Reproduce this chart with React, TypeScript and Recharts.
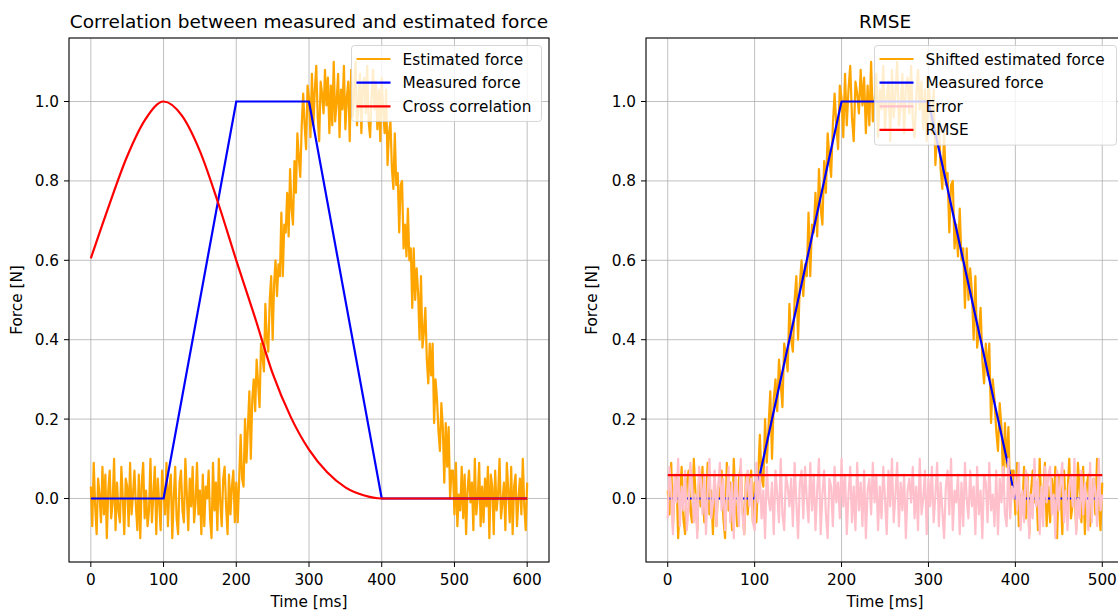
import { LineChart, Line, XAxis, YAxis, CartesianGrid } from "recharts";

// sampling of the noisy signals
const SAMPLE_MS = 2;
const SHIFT_SAMPLES = 50; // 100 ms lag found by the cross correlation

// estimated force, 0..600 ms every 2 ms
const estimatedForce = [
  0.03, -0.07, 0.09, -0.02, -0.09, 0.05, 0.01, -0.06, 0.08, -0.04,
  0.06, -0.10, 0.02, 0.07, -0.05, -0.01, 0.10, -0.08, 0.04, -0.03,
  -0.06, 0.08, 0.00, -0.09, 0.05, 0.03, -0.07, 0.09, -0.04, 0.01,
  0.07, -0.02, -0.08, 0.06, -0.10, 0.04, 0.09, -0.05, 0.02, -0.07,
  -0.03, 0.10, -0.06, 0.01, 0.08, -0.09, 0.05, -0.01, -0.08, 0.07,
  0.02, -0.04, 0.09, -0.07, 0.03, 0.06, -0.10, 0.00, 0.08, -0.05,
  -0.09, 0.04, 0.07, -0.03, -0.06, 0.10, 0.01, -0.08, 0.05, -0.02,
  0.08, -0.06, -0.01, 0.09, -0.04, 0.02, -0.09, 0.06, -0.07, 0.03,
  0.00, 0.07, -0.05, -0.10, 0.09, -0.03, 0.04, -0.08, 0.10, -0.01,
  -0.07, 0.05, 0.08, -0.02, -0.09, 0.06, -0.04, 0.03, 0.07, -0.06,
  0.04, -0.06, 0.05, 0.16, 0.05, 0.03, 0.20, 0.09, 0.18, 0.27,
  0.10, 0.25, 0.30, 0.22, 0.35, 0.29, 0.23, 0.39, 0.36, 0.32,
  0.49, 0.40, 0.37, 0.50, 0.56, 0.40, 0.54, 0.60, 0.51, 0.59,
  0.56, 0.72, 0.56, 0.69, 0.67, 0.77, 0.66, 0.83, 0.73, 0.69,
  0.85, 0.77, 0.92, 0.86, 0.81, 0.94, 1.02, 0.94, 0.88, 1.04,
  1.01, 0.91, 1.07, 0.94, 1.03, 1.09, 0.96, 0.90, 1.05, 1.02,
  0.97, 1.08, 0.99, 1.06, 0.92, 1.04, 0.94, 1.10, 0.95, 1.00,
  1.07, 0.91, 1.03, 0.98, 1.09, 0.93, 1.01, 1.05, 0.90, 1.08,
  0.96, 1.02, 1.10, 0.94, 0.99, 1.07, 0.92, 1.04, 1.06, 0.97,
  1.09, 0.95, 0.91, 1.01, 1.08, 0.98, 1.05, 0.93, 1.03, 0.90,
  1.06, 0.98, 0.92, 1.03, 0.84, 0.92, 0.95, 0.83, 0.78, 0.92,
  0.79, 0.82, 0.67, 0.79, 0.80, 0.63, 0.69, 0.61, 0.73, 0.60,
  0.63, 0.48, 0.63, 0.50, 0.58, 0.52, 0.40, 0.56, 0.38, 0.42,
  0.48, 0.35, 0.29, 0.39, 0.31, 0.39, 0.19, 0.30, 0.25, 0.17,
  0.12, 0.24, 0.18, 0.04, 0.19, 0.08, 0.18, 0.00, 0.07, 0.07,
  -0.04, 0.09, -0.07, 0.01, -0.03, 0.08, -0.05, 0.06, -0.09, 0.02,
  0.07, -0.01, 0.04, -0.08, 0.10, -0.04, 0.00, 0.09, -0.07, 0.03,
  -0.06, 0.05, -0.02, 0.08, -0.10, 0.06, 0.03, -0.09, 0.07, -0.03,
  0.01, 0.10, -0.05, -0.01, 0.04, -0.08, 0.09, 0.02, -0.06, 0.08,
  -0.09, 0.03, 0.06, -0.07, 0.00, 0.05, -0.04, 0.10, -0.02, -0.08,
  0.04,
];

// error after shifting, 0..500 ms every 2 ms
const errorValues = [
  -0.05, 0.08, 0.02, -0.09, 0.06, -0.01, 0.10, -0.07, 0.03, -0.03,
  0.07, -0.08, -0.02, 0.09, 0.04, -0.06, 0.01, -0.10, 0.08, 0.05,
  -0.04, 0.06, -0.09, 0.02, 0.10, -0.05, -0.01, 0.07, -0.07, 0.03,
  0.09, -0.03, 0.05, -0.08, 0.00, 0.08, -0.06, 0.04, -0.10, 0.06,
  0.01, -0.07, 0.10, -0.04, -0.09, 0.03, 0.07, -0.02, 0.05, -0.06,
  -0.08, 0.09, -0.01, 0.06, -0.05, 0.02, -0.10, 0.08, 0.00, -0.03,
  0.04, -0.09, 0.07, 0.01, -0.06, 0.10, -0.04, -0.08, 0.06, 0.03,
  -0.02, 0.05, -0.07, 0.09, -0.01, -0.10, 0.04, 0.07, -0.05, 0.08,
  0.00, -0.06, 0.09, -0.03, 0.06, -0.08, 0.02, 0.10, -0.09, 0.01,
  0.07, -0.04, -0.10, 0.05, 0.03, -0.07, 0.08, -0.01, 0.04, -0.05,
  0.10, -0.02, 0.06, -0.09, 0.01, 0.08, -0.06, 0.03, -0.08, 0.09,
  -0.03, 0.04, -0.07, 0.07, -0.10, 0.02, 0.05, -0.04, 0.09, -0.01,
  0.06, -0.08, 0.03, -0.05, 0.08, 0.00, -0.09, 0.07, -0.02, 0.10,
  -0.06, 0.01, 0.09, -0.07, 0.04, -0.03, 0.06, -0.10, 0.02, 0.05,
  -0.01, 0.08, -0.05, 0.03, -0.08, 0.10, -0.04, 0.00, 0.07, -0.09,
  0.05, -0.02, 0.08, -0.06, 0.01, 0.09, -0.07, 0.04, -0.03, -0.10,
  0.03, 0.07, -0.04, 0.10, -0.08, 0.02, -0.01, 0.06, -0.09, 0.04,
  -0.07, 0.09, 0.00, -0.05, 0.07, -0.02, 0.03, -0.09, 0.08, -0.04,
  0.02, -0.10, 0.06, 0.04, -0.06, 0.09, -0.03, 0.01, -0.07, 0.07,
  -0.09, 0.05, -0.01, 0.08, -0.04, -0.07, 0.10, -0.05, 0.03, 0.00,
  0.06, -0.03, 0.09, -0.08, 0.02, -0.06, 0.07, 0.04, -0.10, 0.01,
  -0.05, 0.10, -0.02, 0.05, -0.09, 0.03, -0.07, 0.08, -0.01, 0.06,
  0.08, -0.04, 0.01, -0.10, 0.07, -0.03, 0.05, 0.09, -0.06, 0.02,
  -0.08, 0.03, 0.06, -0.02, 0.10, -0.09, 0.00, -0.05, 0.07, -0.04,
  0.04, -0.01, -0.08, 0.09, -0.06, 0.05, 0.02, -0.07, 0.10, -0.03,
  0.01,
];

const measuredTimes = [0, 100, 200, 300, 400, 600];
const measuredValues = [0, 0, 1, 1, 0, 0];
const measuredTimesRmse = [0, 100, 200, 300, 400, 500];
const measuredValuesRmse = [0, 0, 1, 1, 0, 0];

const corrTimes = [0, 25, 50, 75, 100, 125, 150, 175, 200, 225, 250, 275, 300, 325, 350, 375, 400, 425, 450, 475, 500, 525, 550, 575, 600];
const corrValues = [0.605, 0.738, 0.862, 0.955, 1.0, 0.965, 0.875, 0.745, 0.6, 0.46, 0.315, 0.205, 0.123, 0.066, 0.028, 0.008, 0, 0, 0, 0, 0, 0, 0, 0, 0];

const rmseTimes = [0, 500];
const rmseValues = [0.059, 0.059];

const leftXTicks = [0, 100, 200, 300, 400, 500, 600];
const rightXTicks = [0, 100, 200, 300, 400, 500];
const yTicks = [0, 0.2, 0.4, 0.6, 0.8, 1.0];

const toRows = (ts: number[], vs: number[]) => ts.map((t, i) => ({ t, v: vs[i] }));
const estRows = estimatedForce.map((v, i) => ({ t: i * SAMPLE_MS, v }));
const shiftedRows = estimatedForce.slice(SHIFT_SAMPLES).map((v, i) => ({ t: i * SAMPLE_MS, v }));
const errorRows = errorValues.map((v, i) => ({ t: i * SAMPLE_MS, v }));

const FS = 15.3;
const LW = 2.2;
const tickStyle = { fill: "#000", fontSize: FS };

function Legend({ x, y, w, items }: { x: number; y: number; w: number; items: { label: string; color: string }[] }) {
  const rowH = 23.65;
  return (
    <g>
      <rect x={x} y={y} width={w} height={items.length * rowH + 5} rx={3} fill="#fff" fillOpacity={0.8} stroke="#ccc" strokeOpacity={0.8} />
      {items.map((it, i) => {
        const cy = y + 13.5 + i * rowH;
        return (
          <g key={it.label}>
            <line x1={x + 5} x2={x + 39} y1={cy} y2={cy} stroke={it.color} strokeWidth={LW} />
            <text x={x + 51} y={cy + 5.5} fontSize={FS} fill="#000">{it.label}</text>
          </g>
        );
      })}
    </g>
  );
}

export default function App() {
  return (
    <div style={{ position: "fixed", left: 0, top: 0, width: 1118, height: 612, overflow: "hidden", background: "#fff", fontFamily: "'DejaVu Sans', sans-serif" }}>
      <div style={{ position: "absolute", left: 0, top: 0 }}>
        <LineChart width={560} height={612} margin={{ top: 38, right: 11, bottom: 0, left: 0 }}>
          <CartesianGrid stroke="#b0b0b0" strokeWidth={0.8} />
          <XAxis type="number" dataKey="t" domain={[-30, 630]} ticks={leftXTicks} interval={0} allowDataOverflow axisLine={false}
            tickSize={5} tickMargin={7} tick={tickStyle} tickLine={{ stroke: "#000" }} height={50}
            label={{ value: "Time [ms]", position: "insideBottom", offset: 5, fill: "#000", fontSize: FS }} />
          <YAxis type="number" domain={[-0.16, 1.16]} ticks={yTicks} interval={0} allowDataOverflow axisLine={false} width={69}
            tickSize={5} tickMargin={5} tick={tickStyle} tickLine={{ stroke: "#000" }} tickFormatter={(v: number) => v.toFixed(1)}
            label={{ value: "Force [N]", angle: -90, position: "insideLeft", offset: 17, fill: "#000", fontSize: FS, style: { textAnchor: "middle" } }} />
          <Line data={estRows} dataKey="v" type="linear" stroke="#ffa500" strokeWidth={LW} dot={false} isAnimationActive={false} strokeLinejoin="round" />
          <Line data={toRows(measuredTimes, measuredValues)} dataKey="v" type="linear" stroke="#0000ff" strokeWidth={LW} dot={false} isAnimationActive={false} />
          <Line data={toRows(corrTimes, corrValues)} dataKey="v" type="monotone" stroke="#ff0000" strokeWidth={LW} dot={false} isAnimationActive={false} />
        </LineChart>
      </div>
      <div style={{ position: "absolute", left: 577, top: 0 }}>
        <LineChart width={547} height={612} margin={{ top: 38, right: 0, bottom: 0, left: 0 }}>
          <CartesianGrid stroke="#b0b0b0" strokeWidth={0.8} />
          <XAxis type="number" dataKey="t" domain={[-25, 525]} ticks={rightXTicks} interval={0} allowDataOverflow axisLine={false}
            tickSize={5} tickMargin={7} tick={tickStyle} tickLine={{ stroke: "#000" }} height={50}
            label={{ value: "Time [ms]", position: "insideBottom", offset: 5, fill: "#000", fontSize: FS }} />
          <YAxis type="number" domain={[-0.16, 1.16]} ticks={yTicks} interval={0} allowDataOverflow axisLine={false} width={69}
            tickSize={5} tickMargin={5} tick={tickStyle} tickLine={{ stroke: "#000" }} tickFormatter={(v: number) => v.toFixed(1)}
            label={{ value: "Force [N]", angle: -90, position: "insideLeft", offset: 15, fill: "#000", fontSize: FS, style: { textAnchor: "middle" } }} />
          <Line data={shiftedRows} dataKey="v" type="linear" stroke="#ffa500" strokeWidth={LW} dot={false} isAnimationActive={false} strokeLinejoin="round" />
          <Line data={toRows(measuredTimesRmse, measuredValuesRmse)} dataKey="v" type="linear" stroke="#0000ff" strokeWidth={LW} dot={false} isAnimationActive={false} />
          <Line data={errorRows} dataKey="v" type="linear" stroke="#ffc0cb" strokeWidth={LW} dot={false} isAnimationActive={false} strokeLinejoin="round" />
          <Line data={toRows(rmseTimes, rmseValues)} dataKey="v" type="linear" stroke="#ff0000" strokeWidth={LW} dot={false} isAnimationActive={false} />
        </LineChart>
      </div>
      <svg width={1118} height={612} style={{ position: "absolute", left: 0, top: 0, pointerEvents: "none" }}>
        <text x={309} y={28.3} textAnchor="middle" fontSize={18.5} fill="#000">Correlation between measured and estimated force</text>
        <text x={885} y={28.3} textAnchor="middle" fontSize={18.5} fill="#000">RMSE</text>
        <rect x={69} y={38} width={480} height={524} fill="none" stroke="#000" strokeWidth={1} />
        <rect x={646} y={38} width={478} height={524} fill="none" stroke="#000" strokeWidth={1} />
        <Legend x={351.5} y={45.5} w={190} items={[
          { label: "Estimated force", color: "#ffa500" },
          { label: "Measured force", color: "#0000ff" },
          { label: "Cross correlation", color: "#ff0000" },
        ]} />
        <Legend x={874.5} y={45.5} w={242} items={[
          { label: "Shifted estimated force", color: "#ffa500" },
          { label: "Measured force", color: "#0000ff" },
          { label: "Error", color: "#ffc0cb" },
          { label: "RMSE", color: "#ff0000" },
        ]} />
      </svg>
    </div>
  );
}
